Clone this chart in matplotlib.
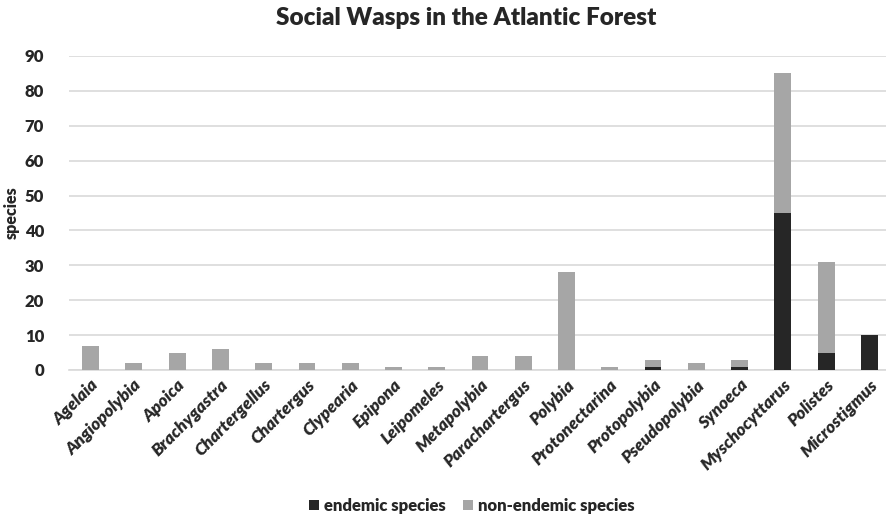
import matplotlib
matplotlib.use("Agg")
import matplotlib.pyplot as plt
import numpy as np

genera = ["Agelaia", "Angiopolybia", "Apoica", "Brachygastra", "Chartergellus",
          "Chartergus", "Clypearia", "Epipona", "Leipomeles", "Metapolybia",
          "Parachartergus", "Polybia", "Protonectarina", "Protopolybia",
          "Pseudopolybia", "Synoeca", "Myschocyttarus", "Polistes", "Microstigmus"]
endemic = [0, 0, 0, 0, 0, 0, 0, 0, 0, 0, 0, 0, 0, 1, 0, 1, 45, 5, 10]
non_endemic = [7, 2, 5, 6, 2, 2, 2, 1, 1, 4, 4, 28, 1, 2, 2, 2, 40, 26, 0]
yticks = [0, 10, 20, 30, 40, 50, 60, 70, 80, 90]

plt.rcParams['font.family'] = ['Lato', 'DejaVu Sans']

fig = plt.figure(figsize=(8.86, 5.16), dpi=100)
ax = fig.add_axes([69/886, 1 - 370/516, (891 - 69)/886, (370 - 56)/516])

x = np.arange(len(genera))
w = 0.39
ax.bar(x, endemic, w, color="#262626", label="endemic species", zorder=3)
ax.bar(x, non_endemic, w, bottom=endemic, color="#a6a6a6", label="non-endemic species", zorder=3)

ax.set_xlim(-0.5, len(genera) - 0.5)
ax.set_ylim(0, 90)
ax.set_yticks(yticks)
ax.set_yticklabels([str(t) for t in yticks], fontsize=12, fontweight="heavy", color="#262626")
ax.yaxis.grid(True, color="#d9d9d9", linewidth=1.2, zorder=0)
ax.tick_params(axis="both", length=0)
ax.tick_params(axis="y", pad=18)
ax.set_xticks(x)
ax.set_xticklabels(genera, rotation=45, ha="right", rotation_mode="anchor",
                   fontsize=12.5, fontweight="heavy", fontstyle="italic", color="#262626")
ax.tick_params(axis="x", pad=5)
for s in ["top", "right", "left"]:
    ax.spines[s].set_visible(False)
ax.spines["bottom"].set_color("#d9d9d9")
ax.spines["bottom"].set_linewidth(1.2)

ax.set_ylabel("species", fontsize=11.5, fontweight="heavy", color="#262626")
ax.yaxis.set_label_coords(-0.06, 0.5)

fig.text(466/886, 1 - 18/516, "Social Wasps in the Atlantic Forest", ha="center", va="center",
         fontsize=17.5, fontweight="heavy", color="#262626")

fig.legend(loc="center", bbox_to_anchor=(472/886, 1 - 506/516), ncol=2, frameon=False,
           prop={"weight": "heavy", "size": 12}, handlelength=0.6, handleheight=0.6,
           columnspacing=1.0, handletextpad=0.3, labelcolor="#262626")

fig.savefig("out.png", dpi=100)
